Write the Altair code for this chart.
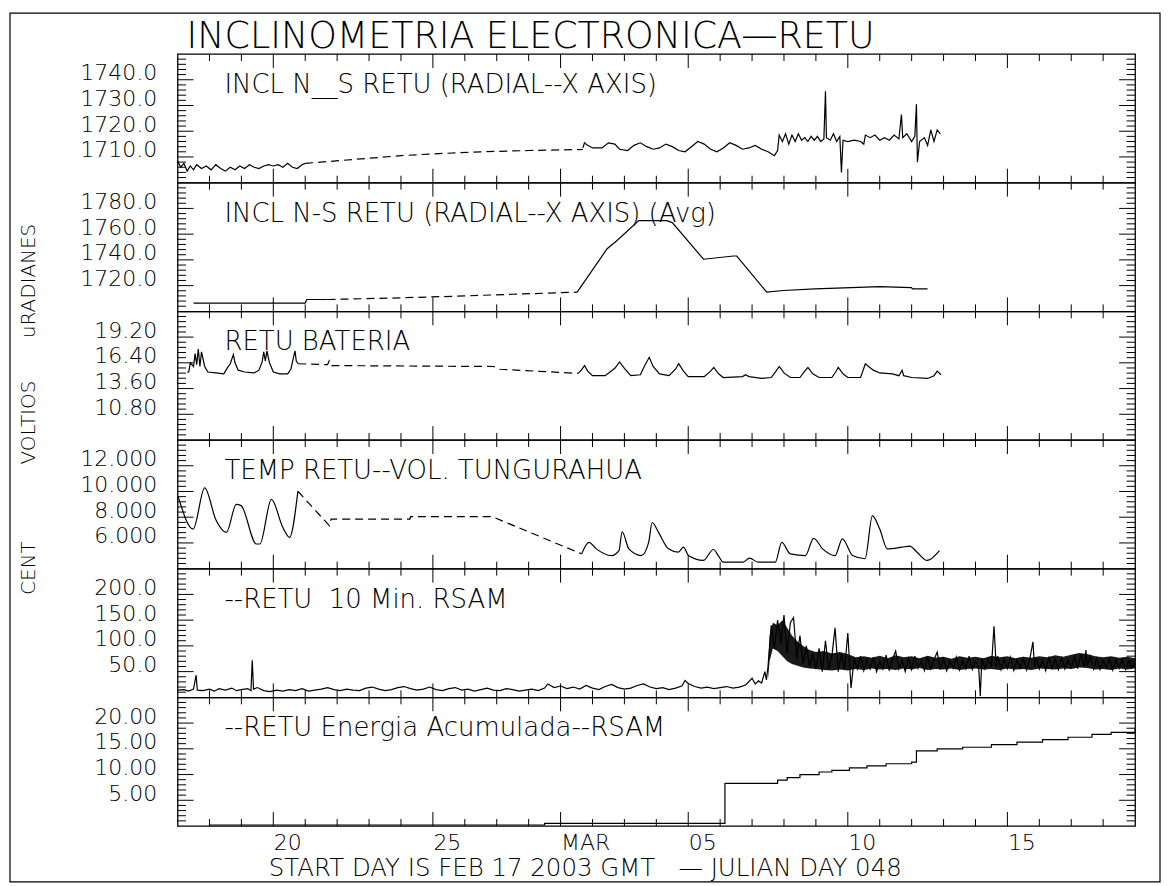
import altair as alt
import pandas as pd

FONT = "DejaVu Sans"
W = 960
H = 129
X_DOMAIN = [0, 30]
NB = "\u00a0"

TITLE = "INCLINOMETRIA ELECTRONICA—RETU"
X_TITLE = "START DAY IS FEB 17 2003 GMT" + NB * 3 + "— JULIAN DAY 048"
X_LABEL_DAYS = [3, 8, 12, 16, 21, 26]
X_LABELS = ["20", "25", "MAR", "05", "10", "15"]
X_MINOR_DAYS = [1, 2, 3, 4, 5, 6, 7, 8, 9, 10, 11, 12, 13, 14, 15, 16, 17, 18, 19, 20,
                21, 22, 23, 24, 25, 26, 27, 28, 29]

PANEL_TITLES = [
    "INCL N__S RETU (RADIAL--X AXIS)",
    "INCL N-S RETU (RADIAL--X AXIS) (Avg)",
    "RETU BATERIA",
    "TEMP RETU--VOL. TUNGURAHUA",
    "--RETU" + NB * 2 + "10 Min. RSAM",
    "--RETU Energia Acumulada--RSAM",
]
Y_DOMAINS = [[1700, 1750], [1700, 1800], [8.0, 22.0], [4, 14], [0, 250], [0, 25]]
Y_LABEL_VALUES = [[1710, 1720, 1730, 1740], [1720, 1740, 1760, 1780],
                  [10.8, 13.6, 16.4, 19.2], [6, 8, 10, 12], [50, 100, 150, 200], [5, 10, 15, 20]]
Y_FORMATS = [".1f", ".1f", ".2f", ".3f", ".1f", ".2f"]
Y_TITLES = ["", "uRADIANES", "VOLTIOS", "CENT", "", ""]

# ---- panel 1: INCL N__S (day offset from Feb 17, microradians)
INCL_A = [[0.0, 1708.5], [0.1, 1706], [0.2, 1707.5], [0.3, 1704.5], [0.4, 1706.5], [0.5, 1705],
          [0.6, 1707], [0.75, 1705.5], [0.9, 1706.5], [1.05, 1705], [1.2, 1707], [1.35, 1705.5],
          [1.5, 1704.5], [1.65, 1706], [1.8, 1705], [1.95, 1706.5], [2.1, 1705.5], [2.25, 1707],
          [2.4, 1706], [2.55, 1705.5], [2.7, 1706.5], [2.85, 1707], [3.0, 1706.5], [3.15, 1707],
          [3.3, 1706], [3.45, 1707.5], [3.6, 1706], [3.75, 1705.5], [3.9, 1707], [4.0, 1707.5]]
INCL_GAP = [[4.0, 1707.5], [5.5, 1709], [7.0, 1710.5], [8.0, 1711.2], [9.5, 1712], [11.0, 1712.5],
            [12.7, 1712.9]]
INCL_B = [[12.7, 1713.5], [12.75, 1715.5], [12.85, 1714.5], [13.0, 1713.5], [13.3, 1713.5],
          [13.5, 1715.5], [13.7, 1715], [13.85, 1713], [14.1, 1712.5], [14.3, 1714.5], [14.5, 1715.5],
          [14.7, 1714], [14.9, 1713], [15.1, 1713.5], [15.3, 1715], [15.5, 1714], [15.7, 1712.5],
          [15.9, 1712], [16.1, 1714], [16.3, 1716], [16.5, 1715], [16.7, 1713], [16.9, 1712],
          [17.1, 1713.5], [17.3, 1715.5], [17.5, 1714.5], [17.7, 1713], [17.9, 1713.5], [18.1, 1714.5],
          [18.3, 1713], [18.5, 1712], [18.7, 1710.5], [18.8, 1712.5], [18.85, 1718.5], [18.95, 1716],
          [19.05, 1719], [19.15, 1715], [19.25, 1718.5], [19.35, 1716], [19.45, 1719], [19.55, 1716.5],
          [19.65, 1717.5], [19.75, 1716], [19.85, 1718], [19.95, 1716.5], [20.05, 1718], [20.15, 1716],
          [20.25, 1717], [20.3, 1735.5], [20.33, 1717.5], [20.45, 1716.5], [20.55, 1719], [20.65, 1716],
          [20.75, 1718], [20.8, 1704], [20.85, 1716.5], [21.0, 1716], [21.2, 1716.5], [21.4, 1716],
          [21.5, 1715], [21.55, 1718.5], [21.7, 1717.5], [21.85, 1718.5], [22.0, 1716.5], [22.15, 1717.5],
          [22.3, 1716.5], [22.45, 1718.5], [22.6, 1717], [22.68, 1726.5], [22.72, 1717.5], [22.85, 1719],
          [23.0, 1716], [23.1, 1718], [23.15, 1730.5], [23.18, 1708], [23.25, 1716], [23.4, 1717.5],
          [23.5, 1714.5], [23.6, 1720.5], [23.7, 1716], [23.8, 1720.5], [23.9, 1719]]

# ---- panel 2: INCL N-S averaged
AVG_A = [[0.5, 1706.4], [4.0, 1706.4], [4.05, 1709.2], [4.7, 1709.2]]
AVG_GAP = [[4.7, 1709.2], [7.0, 1710.5], [9.0, 1712], [10.5, 1713.3], [12.52, 1714.9]]
AVG_B = [[12.52, 1714.9], [13.46, 1748.7], [13.77, 1755.1], [14.45, 1770.5], [15.33, 1770.5],
         [15.5, 1769], [16.48, 1740.5], [17.42, 1743], [17.52, 1743], [18.46, 1714.9], [18.98, 1716.2],
         [19.97, 1717.4], [22.0, 1719.2], [22.99, 1718.5], [23.03, 1717.4], [23.5, 1717.4]]

# ---- panel 3: battery (volts)
BAT_A = [[0.3, 15.4], [0.35, 15.4], [0.4, 16.4], [0.5, 16.0], [0.55, 17.4], [0.6, 16.2], [0.65, 17.9],
         [0.7, 16.0], [0.75, 17.6], [0.85, 16.0], [0.95, 15.4], [1.2, 15.3], [1.45, 15.2], [1.55, 15.8],
         [1.65, 16.3], [1.75, 17.3], [1.8, 16.4], [1.9, 15.6], [2.1, 15.4], [2.4, 15.3], [2.55, 15.6],
         [2.65, 16.5], [2.7, 17.6], [2.75, 16.6], [2.8, 17.7], [2.88, 16.4], [3.0, 15.4], [3.2, 15.2],
         [3.45, 15.2], [3.55, 15.7], [3.62, 16.8], [3.68, 17.7], [3.72, 16.6], [3.78, 16.3]]
BAT_GAP = [[3.78, 16.3], [4.7, 16.2], [4.75, 16.6], [4.8, 16.1], [9.9, 16.0], [10.1, 15.7], [12.55, 15.25]]
BAT_B = [[12.55, 15.25], [12.65, 15.6], [12.75, 16.1], [12.85, 15.5], [13.0, 15.0], [13.4, 15.0],
         [13.7, 15.8], [13.85, 16.5], [14.0, 15.8], [14.2, 15.0], [14.5, 15.1], [14.65, 16.2],
         [14.78, 17.0], [14.9, 16.0], [15.1, 15.2], [15.4, 15.0], [15.6, 15.7], [15.7, 16.3],
         [15.85, 15.5], [16.0, 14.9], [16.5, 14.9], [16.7, 15.5], [16.8, 15.9], [16.95, 15.2],
         [17.1, 14.8], [17.7, 14.9], [17.8, 15.1], [17.9, 14.9], [18.3, 14.7], [18.6, 14.8],
         [18.75, 15.5], [18.85, 16.0], [19.0, 15.3], [19.2, 14.8], [19.5, 14.8], [19.65, 15.5],
         [19.75, 15.9], [19.9, 15.2], [20.1, 14.8], [20.5, 14.8], [20.62, 15.4], [20.7, 15.9],
         [20.85, 15.2], [21.0, 14.8], [21.4, 14.8], [21.55, 16.3], [21.65, 16.0], [21.8, 15.6],
         [22.0, 15.3], [22.4, 15.2], [22.6, 15.0], [22.7, 15.6], [22.75, 15.0], [23.0, 14.8],
         [23.5, 14.7], [23.7, 15.0], [23.8, 15.5], [23.92, 15.1]]

# ---- panel 4: temperature (deg C)
TEMP_A = [[0.02, 9.6], [0.49, 7.08], [0.85, 10.28], [1.2, 7.8], [1.53, 6.82], [1.84, 9.0], [1.99, 8.9],
          [2.47, 5.92], [2.58, 5.92], [2.94, 9.38], [3.3, 7.2], [3.51, 6.44], [3.77, 10.02]]
TEMP_GAP = [[3.77, 10.02], [4.76, 7.33], [4.81, 7.85], [7.28, 7.85], [7.3, 8.05], [9.85, 8.05],
            [12.66, 5.15]]
TEMP_B = [[12.66, 5.15], [12.89, 6.05], [13.12, 5.54], [13.59, 5.02], [13.83, 5.41], [13.93, 6.87],
          [14.14, 5.54], [14.53, 5.02], [14.76, 6.05], [14.87, 7.59], [15.07, 6.82], [15.38, 5.54],
          [15.69, 5.28], [15.85, 5.67], [16.01, 5.02], [16.47, 4.64], [16.79, 5.49], [16.94, 5.02],
          [17.10, 4.51], [17.72, 4.51], [17.92, 4.82], [18.19, 4.51], [18.73, 4.51], [18.93, 6.05],
          [19.20, 5.15], [19.67, 5.02], [19.93, 6.36], [20.21, 5.54], [20.60, 5.02], [20.83, 6.31],
          [21.15, 5.02], [21.54, 4.77], [21.77, 8.10], [22.00, 7.08], [22.24, 5.54], [22.70, 5.67],
          [22.94, 5.75], [23.17, 5.28], [23.48, 4.64], [23.87, 5.41]]

# ---- panel 5: RSAM 10 min
RSAM_QUIET = [[0.0, 14], [0.2, 15], [0.35, 12], [0.5, 16], [0.58, 43], [0.62, 14], [0.8, 13], [1.0, 16],
              [1.15, 12], [1.3, 17], [1.5, 14], [1.7, 18], [1.85, 13], [2.0, 15], [2.2, 17], [2.3, 13],
              [2.34, 72], [2.38, 16], [2.5, 19], [2.7, 13], [2.9, 11], [3.1, 14], [3.3, 12], [3.5, 15],
              [3.7, 13], [3.9, 17], [4.1, 12], [4.3, 14], [4.5, 16], [4.7, 19], [4.9, 15], [5.1, 13],
              [5.3, 16], [5.5, 14], [5.7, 13], [5.9, 18], [6.1, 20], [6.3, 16], [6.5, 13], [6.7, 15],
              [6.9, 19], [7.1, 21], [7.3, 17], [7.5, 14], [7.7, 16], [7.9, 20], [8.1, 15], [8.3, 13],
              [8.5, 17], [8.7, 19], [8.9, 14], [9.1, 16], [9.3, 12], [9.5, 15], [9.7, 18], [9.9, 14],
              [10.1, 13], [10.3, 17], [10.5, 15], [10.7, 12], [10.9, 14], [11.1, 16], [11.3, 13],
              [11.5, 18], [11.6, 26], [11.8, 19], [12.0, 22], [12.2, 17], [12.4, 20], [12.6, 16],
              [12.8, 23], [13.0, 18], [13.2, 15], [13.4, 21], [13.6, 25], [13.8, 19], [14.0, 16],
              [14.2, 18], [14.4, 23], [14.6, 26], [14.8, 20], [15.0, 17], [15.2, 19], [15.4, 15],
              [15.6, 18], [15.8, 22], [15.9, 33], [16.0, 27], [16.2, 21], [16.4, 18], [16.6, 20],
              [16.8, 17], [17.0, 19], [17.2, 21], [17.4, 18], [17.6, 20], [17.8, 24], [18.0, 37],
              [18.1, 26], [18.2, 32], [18.3, 28], [18.4, 50], [18.45, 34]]
RSAM_ACTIVE = [[18.5, 60], [18.6, 140], [18.7, 95], [18.8, 150], [18.9, 105], [19.0, 160], [19.1, 85],
               [19.2, 145], [19.3, 155], [19.4, 75], [19.5, 120], [19.6, 65], [19.7, 100], [19.8, 60],
               [19.9, 85], [20.0, 55], [20.1, 95], [20.2, 50], [20.3, 110], [20.4, 55], [20.5, 80],
               [20.6, 135], [20.7, 50], [20.8, 85], [20.9, 55], [21.0, 125], [21.1, 18], [21.2, 75],
               [21.3, 55], [21.4, 80], [21.5, 52], [21.6, 72], [21.7, 55], [21.8, 78], [21.9, 50],
               [22.0, 70], [22.1, 55], [22.2, 82], [22.3, 52], [22.4, 74], [22.5, 90], [22.6, 55],
               [22.7, 72], [22.8, 50], [22.9, 76], [23.0, 54], [23.1, 80], [23.2, 56], [23.3, 70],
               [23.4, 52], [23.5, 78], [23.6, 55], [23.7, 73], [23.8, 88], [23.9, 54], [24.0, 75],
               [24.1, 52], [24.2, 70], [24.3, 56], [24.4, 78], [24.5, 53], [24.6, 72], [24.7, 55],
               [24.8, 80], [24.9, 54], [25.0, 70], [25.1, 58], [25.15, 2], [25.2, 76], [25.3, 55],
               [25.4, 74], [25.5, 60], [25.58, 138], [25.65, 60], [25.7, 80], [25.8, 54], [25.9, 75],
               [26.0, 56], [26.1, 78], [26.2, 52], [26.3, 72], [26.4, 57], [26.5, 76], [26.6, 53],
               [26.7, 74], [26.8, 108], [26.85, 58], [26.9, 78], [27.0, 55], [27.1, 72], [27.2, 52],
               [27.3, 79], [27.4, 56], [27.5, 74], [27.6, 54], [27.7, 77], [27.8, 55], [27.9, 73],
               [28.0, 58], [28.1, 80], [28.2, 56], [28.3, 84], [28.4, 60], [28.46, 92], [28.5, 62],
               [28.6, 80], [28.7, 55], [28.8, 76], [28.9, 54], [29.0, 72], [29.1, 57], [29.2, 75],
               [29.3, 53], [29.4, 73], [29.5, 56], [29.6, 74], [29.7, 54], [29.8, 70], [29.9, 58],
               [30.0, 66]]
# envelope of the dense 10-minute noise band: day, low, high
RSAM_BAND = [[18.5, 35, 60], [18.55, 70, 120], [18.65, 95, 145], [18.8, 90, 140], [18.95, 80, 150],
             [19.1, 70, 135], [19.25, 65, 120], [19.4, 62, 110], [19.6, 58, 100], [19.8, 56, 92],
             [20.0, 55, 88], [20.25, 53, 90], [20.5, 52, 85], [20.75, 54, 88], [21.0, 52, 84],
             [21.25, 55, 78], [21.5, 53, 80], [21.75, 56, 77], [22.0, 54, 81], [22.25, 55, 76],
             [22.5, 53, 82], [22.75, 56, 78], [23.0, 54, 80], [23.25, 57, 76], [23.5, 53, 81],
             [23.75, 55, 77], [24.0, 54, 79], [24.25, 56, 75], [24.5, 53, 80], [24.75, 55, 77],
             [25.0, 56, 79], [25.25, 54, 76], [25.5, 55, 81], [25.75, 53, 78], [26.0, 56, 80],
             [26.25, 54, 76], [26.5, 55, 79], [26.75, 53, 77], [27.0, 56, 80], [27.25, 55, 78],
             [27.5, 54, 82], [27.75, 56, 79], [28.0, 55, 83], [28.25, 58, 86], [28.5, 57, 84],
             [28.75, 54, 80], [29.0, 55, 78], [29.25, 53, 80], [29.5, 56, 77], [29.75, 54, 79],
             [30.0, 56, 76]]

# ---- panel 6: accumulated energy
ENERGY = [[1.0, 0.2], [11.5, 0.2], [11.5, 0.5], [17.1, 0.5], [17.15, 8.3], [18.6, 8.3], [18.8, 8.9],
          [19.1, 9.4], [19.5, 10.0], [20.1, 10.5], [20.5, 10.8], [21.05, 11.3], [21.6, 11.7],
          [22.2, 12.1], [23.0, 12.4], [23.15, 14.6], [23.8, 15.0], [24.6, 15.3], [25.5, 15.8],
          [26.3, 16.3], [27.1, 16.8], [27.9, 17.25], [28.65, 17.8], [29.25, 18.2], [30.0, 18.85]]

SERIES = [
    [(INCL_A, 0), (INCL_GAP, 1), (INCL_B, 0)],
    [(AVG_A, 0), (AVG_GAP, 1), (AVG_B, 0)],
    [(BAT_A, 0), (BAT_GAP, 1), (BAT_B, 0)],
    [(TEMP_A, 0), (TEMP_GAP, 1), (TEMP_B, 0)],
    [(RSAM_QUIET + RSAM_ACTIVE, 0)],
    [(ENERGY, 0)],
]


def build_panel(i, bottom=False, ytitle_y=0, interp="linear", top=False, band=None):
    lo, hi = Y_DOMAINS[i]
    xs = alt.Scale(domain=X_DOMAIN, nice=False, zero=False)
    ys = alt.Scale(domain=[lo, hi], nice=False, zero=False)
    yax = dict(values=Y_LABEL_VALUES[i], format=Y_FORMATS[i], ticks=False, tickSize=0, domain=False,
               grid=False, labelPadding=21, labelFont=FONT, labelFontSize=22, labelColor="black",
               labelBaseline="alphabetic", labelFlush=False, labelOverlap=False, labelAlign="right",
               labelFontWeight=200)
    if Y_TITLES[i]:
        yax.update(title=Y_TITLES[i], titleX=-149.5, titleY=ytitle_y, titleAlign="center",
                   titleBaseline="middle", titleFont=FONT, titleFontSize=20, titleFontWeight=200,
                   titleColor="black")
    else:
        yax["title"] = None
    Y = alt.Y("v:Q", scale=ys, axis=alt.Axis(**yax))
    if bottom:
        expr = "".join(f"datum.value == {d} ? '{l}' : " for d, l in zip(X_LABEL_DAYS, X_LABELS)) + "''"
        xax = alt.Axis(values=X_LABEL_DAYS, labelExpr=expr, ticks=False, tickSize=0, domain=False,
                       grid=False, labelAlign="left", labelBaseline="top", labelPadding=7, labelFont=FONT,
                       labelFontSize=22, labelColor="black", labelFlush=False, labelOverlap=False,
                       labelFontWeight=200,
                       title=X_TITLE, titleX=91, titleY=31, titleAlign="left", titleAnchor="start",
                       titleBaseline="top", titleFont=FONT, titleFontSize=24.5, titleFontWeight=200,
                       titleColor="black")
        X = alt.X("d:Q", scale=xs, axis=xax)
    else:
        X = alt.X("d:Q", scale=xs, axis=None)

    rows = []
    for k, (pts, dash) in enumerate(SERIES[i]):
        for d, v in pts:
            rows.append({"d": d, "v": v, "seg": k, "dash": dash})
    df = pd.DataFrame(rows)

    layers = []
    if band is not None:
        bdf = pd.DataFrame([{"d": d, "v": a, "v2": b} for d, a, b in band])
        layers.append(alt.Chart(bdf).mark_area(color="black", opacity=0.9, interpolate="linear")
                      .encode(x=X, y=Y, y2="v2:Q"))
    solid = df[df.dash == 0]
    layers.append(alt.Chart(solid).mark_line(color="black", strokeWidth=1.2, interpolate=interp)
                  .encode(x=X, y=Y, detail="seg:N", order="d:Q"))
    dashed = df[df.dash == 1]
    if len(dashed):
        layers.append(alt.Chart(dashed).mark_line(color="black", strokeWidth=1.2, strokeDash=[8, 5])
                      .encode(x=X, y=Y, detail="seg:N", order="d:Q"))

    step = (hi - lo) / 25.0
    minor_y = [lo + k * step for k in range(1, 25) if k % 5 != 0]
    ymin = pd.DataFrame({"v": minor_y})
    ymaj = pd.DataFrame({"v": Y_LABEL_VALUES[i]})
    xmin = pd.DataFrame({"d": [d for d in X_MINOR_DAYS if d not in X_LABEL_DAYS]})
    xmaj = pd.DataFrame({"d": X_LABEL_DAYS})
    for dfv, ln in ((ymin, 8.5), (ymaj, 16)):
        layers.append(alt.Chart(dfv).mark_rule(color="black", strokeWidth=1)
                      .encode(y=Y, x=alt.value(0), x2=alt.value(ln)))
        layers.append(alt.Chart(dfv).mark_rule(color="black", strokeWidth=1)
                      .encode(y=Y, x=alt.value(W - ln), x2=alt.value(W)))
    for dfd, ln in ((xmin, 7), (xmaj, 14)):
        layers.append(alt.Chart(dfd).mark_rule(color="black", strokeWidth=1)
                      .encode(x=X, y=alt.value(0), y2=alt.value(ln)))
        layers.append(alt.Chart(dfd).mark_rule(color="black", strokeWidth=1)
                      .encode(x=X, y=alt.value(H - ln), y2=alt.value(H)))

    layers.append(alt.Chart(pd.DataFrame({"t": [PANEL_TITLES[i]]}))
                  .mark_text(align="left", baseline="alphabetic", font=FONT, fontSize=26,
                             fontWeight=200, color="black")
                  .encode(text="t:N", x=alt.value(47), y=alt.value(39)))
    if top:
        layers.append(alt.Chart(pd.DataFrame({"t": [TITLE]}))
                      .mark_text(align="left", baseline="alphabetic", font=FONT, fontSize=36.5,
                                 fontWeight=200, color="black")
                      .encode(text="t:N", x=alt.value(9), y=alt.value(-6)))
        layers.append(alt.Chart(pd.DataFrame({"t": [0]}))
                      .mark_rect(fill="transparent", stroke="black", strokeWidth=1.2)
                      .encode(x=alt.value(-168), x2=alt.value(985), y=alt.value(-41), y2=alt.value(830)))
    return alt.layer(*layers).properties(width=W, height=H)


panels = [
    build_panel(0, top=True),
    build_panel(1, ytitle_y=98),
    build_panel(2, ytitle_y=111),
    build_panel(3, ytitle_y=128, interp="monotone"),
    build_panel(4, band=RSAM_BAND),
    build_panel(5, bottom=True, interp="step-after"),
]

chart = (alt.vconcat(*panels, spacing=0, bounds="flush")
         .properties(padding={"left": 0, "top": 2, "right": 0, "bottom": 0}, background="white")
         .configure_view(stroke="black", strokeWidth=1.3))

chart.save("out.html", embed_options={"renderer": "svg", "actions": False})
